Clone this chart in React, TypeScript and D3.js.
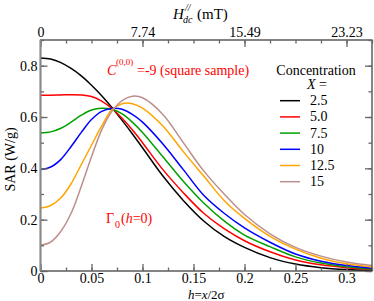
import * as d3 from 'd3';
import React, { useRef, useEffect } from 'react';

// reduced field h = x / 2σ
const hValues = [0, 0.01, 0.02, 0.03, 0.04, 0.05, 0.06, 0.07, 0.08, 0.09, 0.1,
    0.12, 0.14, 0.16, 0.18, 0.2, 0.225, 0.25, 0.275, 0.3, 0.325];

const sar25 = [0.83, 0.826, 0.812, 0.789, 0.76, 0.724, 0.683, 0.637, 0.587, 0.535, 0.48,
    0.37, 0.275, 0.195, 0.135, 0.092, 0.052, 0.027, 0.013, 0.006, 0.003];
const sar50 = [0.685, 0.685, 0.686, 0.687, 0.686, 0.68, 0.662, 0.633, 0.595, 0.55, 0.5,
    0.395, 0.305, 0.225, 0.165, 0.118, 0.075, 0.043, 0.024, 0.013, 0.006];
const sar75 = [0.538, 0.542, 0.556, 0.58, 0.607, 0.627, 0.634, 0.63, 0.612, 0.58, 0.54,
    0.445, 0.35, 0.265, 0.195, 0.14, 0.095, 0.055, 0.031, 0.017, 0.008];
const sar10 = [0.395, 0.405, 0.435, 0.485, 0.54, 0.59, 0.622, 0.633, 0.63, 0.61, 0.58,
    0.495, 0.395, 0.295, 0.225, 0.168, 0.112, 0.066, 0.038, 0.021, 0.011];
const sar125 = [0.245, 0.255, 0.285, 0.34, 0.415, 0.49, 0.565, 0.628, 0.652, 0.652, 0.635,
    0.565, 0.465, 0.37, 0.275, 0.205, 0.135, 0.085, 0.05, 0.028, 0.016];
const sar15 = [0.1, 0.113, 0.155, 0.225, 0.33, 0.445, 0.55, 0.622, 0.664, 0.681, 0.675,
    0.61, 0.5, 0.39, 0.3, 0.22, 0.145, 0.092, 0.058, 0.035, 0.021];

const concentrations = ['2.5', '5.0', '7.5', '10', '12.5', '15'];
const colors = ['#000000', '#ff0000', '#00a000', '#0000ff', '#ffa500', '#bc8f8f'];
const seriesValues = [sar25, sar50, sar75, sar10, sar125, sar15];

const bottomTicks = [0, 0.05, 0.1, 0.15, 0.2, 0.25, 0.3];
const topTicks = [0, 0.1, 0.2, 0.3];
const topTickLabels = ['0', '7.74', '15.49', '23.23'];
const leftTicks = [0, 0.2, 0.4, 0.6, 0.8];

const font = "'Liberation Serif', 'Times New Roman', Tinos, 'DejaVu Serif', serif";

const Chart = ({ width, height }: { width: number, height: number }) => {
    const svgRef = useRef<SVGSVGElement>(null);
    useEffect(() => {
        draw();
    }, []);

    const draw = () => {
        d3.select(svgRef.current).selectAll('*').remove();
        const svg = d3.select(svgRef.current).style('font-family', font);

        const left = 40.5, right = 372, top = 40, bottom = 271;

        const xScale = d3.scaleLinear().domain([0, 0.325]).range([left, right]);
        const yScale = d3.scaleLinear().domain([0, 0.9]).range([bottom, top]);

        const minorX = d3.range(0, 0.326, 0.025);
        const minorY = d3.range(0, 0.91, 0.1);

        // curves
        const line = d3.line<number>()
            .x((d, i) => xScale(hValues[i]))
            .y((d) => yScale(d))
            .curve(d3.curveCatmullRom.alpha(0.5));

        seriesValues.forEach((vals, i) => {
            svg.append('path')
                .datum(vals)
                .attr('d', line)
                .attr('fill', 'none')
                .attr('stroke', colors[i])
                .attr('stroke-width', 1.5);
        });

        // frame
        svg.append('rect')
            .attr('x', left).attr('y', top)
            .attr('width', right - left).attr('height', bottom - top)
            .attr('fill', 'none').attr('stroke', '#333').attr('stroke-width', 1.2);

        const styleAxis = (g: any) => {
            g.attr('font-family', null).attr('font-size', null);
            g.select('.domain').remove();
            g.selectAll('line').attr('stroke', '#666').attr('stroke-width', 1.3);
            g.selectAll('text').style('font-family', font).style('font-size', '14px').attr('fill', '#000');
        };

        // bottom
        svg.append('g').attr('transform', `translate(0, ${bottom})`)
            .call(d3.axisBottom(xScale).tickValues(minorX).tickSize(-3.5).tickFormat(() => ''))
            .call(styleAxis);
        svg.append('g').attr('transform', `translate(0, ${bottom})`)
            .call(d3.axisBottom(xScale).tickValues(bottomTicks).tickSize(-7).tickPadding(2)
                .tickFormat((d: any) => d3.format('')(d)))
            .call(styleAxis);

        // top
        svg.append('g').attr('transform', `translate(0, ${top})`)
            .call(d3.axisTop(xScale).tickValues(minorX).tickSize(-3.5).tickFormat(() => ''))
            .call(styleAxis);
        svg.append('g').attr('transform', `translate(0, ${top})`)
            .call(d3.axisTop(xScale).tickValues(topTicks).tickSize(-7).tickPadding(3)
                .tickFormat((d: any, i: number) => topTickLabels[i]))
            .call(styleAxis);

        // left
        svg.append('g').attr('transform', `translate(${left}, 0)`)
            .call(d3.axisLeft(yScale).tickValues(minorY).tickSize(-3.5).tickFormat(() => ''))
            .call(styleAxis);
        svg.append('g').attr('transform', `translate(${left}, 0)`)
            .call(d3.axisLeft(yScale).tickValues(leftTicks).tickSize(-7).tickPadding(3)
                .tickFormat((d: any) => d3.format('')(d)))
            .call(styleAxis);

        // right
        svg.append('g').attr('transform', `translate(${right}, 0)`)
            .call(d3.axisRight(yScale).tickValues(minorY).tickSize(-3.5).tickFormat(() => ''))
            .call(styleAxis);
        svg.append('g').attr('transform', `translate(${right}, 0)`)
            .call(d3.axisRight(yScale).tickValues(leftTicks).tickSize(-7).tickFormat(() => ''))
            .call(styleAxis);

        svg.append('line')
            .attr('x1', left).attr('x2', left).attr('y1', top).attr('y2', bottom)
            .attr('stroke', '#888').attr('stroke-width', 2);

        // axis titles
        svg.append('text')
            .attr('transform', `translate(15, ${(top + bottom) / 2 + 4}) rotate(-90)`)
            .attr('text-anchor', 'middle')
            .attr('font-size', 14)
            .text('SAR (W/g)');

        const xlab = svg.append('text')
            .attr('x', (left + right) / 2).attr('y', 299)
            .attr('text-anchor', 'middle')
            .attr('font-size', 13);
        xlab.append('tspan').attr('font-style', 'italic').text('h');
        xlab.append('tspan').text('=');
        xlab.append('tspan').attr('font-style', 'italic').text('x');
        xlab.append('tspan').text('/2σ');

        svg.append('text').attr('x', 173).attr('y', 19)
            .attr('font-size', 15).attr('font-style', 'italic').text('H');
        svg.append('text').attr('x', 185).attr('y', 11)
            .attr('font-size', 10).attr('font-style', 'italic').text('//');
        svg.append('text').attr('x', 183).attr('y', 23)
            .attr('font-size', 10).attr('font-style', 'italic').text('dc');
        svg.append('text').attr('x', 197).attr('y', 19)
            .attr('font-size', 15).text('(mT)');

        // annotations
        svg.append('text').attr('x', 107).attr('y', 75)
            .attr('font-size', 14).attr('font-style', 'italic')
            .attr('fill', '#ff0000').text('C');
        svg.append('text').attr('x', 116).attr('y', 65)
            .attr('font-size', 9)
            .attr('fill', '#ff0000').text('(0,0)');
        svg.append('text').attr('x', 137).attr('y', 75)
            .attr('font-size', 14)
            .attr('fill', '#ff0000').text('=-9 (square sample)');

        svg.append('text').attr('x', 106).attr('y', 223)
            .attr('font-size', 14)
            .attr('fill', '#ff0000').text('Γ');
        svg.append('text').attr('x', 115).attr('y', 228)
            .attr('font-size', 10)
            .attr('fill', '#ff0000').text('0');
        const g0 = svg.append('text').attr('x', 121).attr('y', 223)
            .attr('font-size', 14).attr('fill', '#ff0000');
        g0.append('tspan').text('(');
        g0.append('tspan').attr('font-style', 'italic').text('h');
        g0.append('tspan').text('=0)');

        // legend
        svg.append('text').attr('x', 316).attr('y', 75)
            .attr('text-anchor', 'middle')
            .attr('font-size', 14).text('Concentration');
        const xeq = svg.append('text').attr('x', 307).attr('y', 89)
            .attr('font-size', 14);
        xeq.append('tspan').attr('font-style', 'italic').text('X');
        xeq.append('tspan').text(' =');

        const legendY = d3.scalePoint<string>().domain(concentrations).range([100.7, 181.7]);
        const entries = svg.selectAll('.legend')
            .data(concentrations)
            .enter()
            .append('g')
            .attr('class', 'legend')
            .attr('transform', (d) => `translate(0, ${legendY(d)})`);
        entries.append('line')
            .attr('x1', 280).attr('x2', 300)
            .attr('stroke', (d, i) => colors[i]).attr('stroke-width', 1.5);
        entries.append('text')
            .attr('x', 310).attr('y', 4.5)
            .attr('font-size', 14)
            .text((d) => d);
    }

    return (
        <svg ref={svgRef} width={width} height={height}
            style={{ position: 'absolute', left: 0, top: 0, background: '#fff' }}>
        </svg>
    )
}

const App = () => <Chart width={374} height={301} />;

export default App;
